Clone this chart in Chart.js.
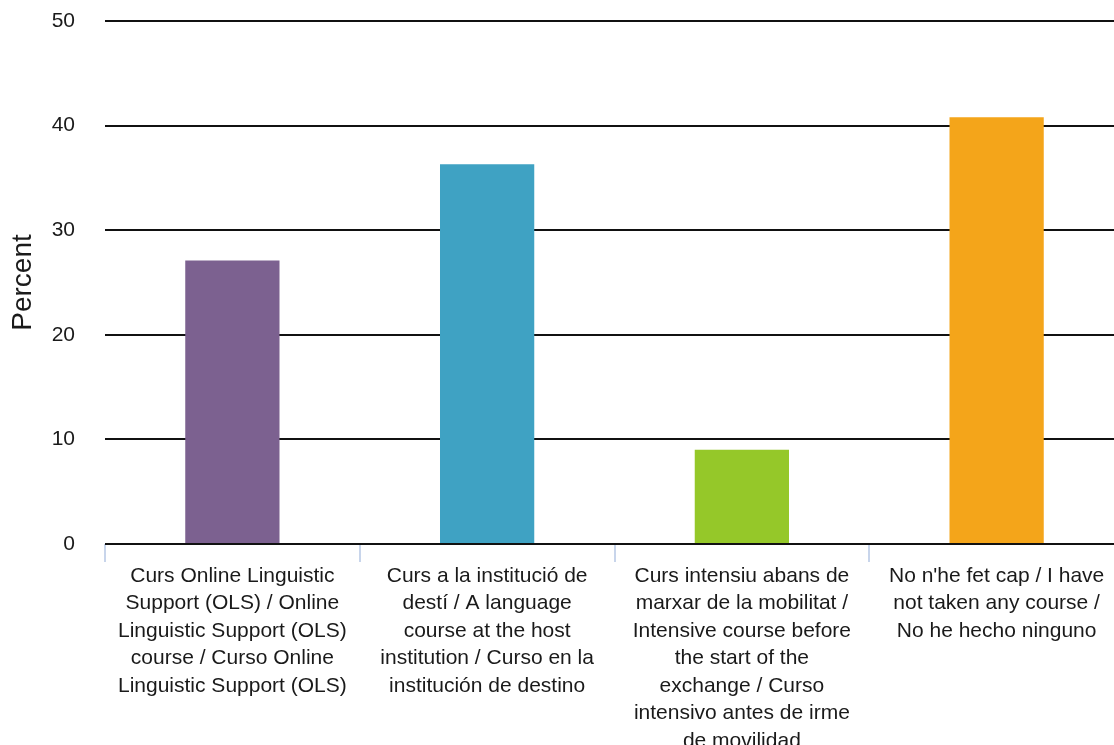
<!DOCTYPE html>
<html>
<head>
<meta charset="utf-8">
<script src="https://cdn.jsdelivr.net/npm/chart.js@4/dist/chart.umd.min.js"></script>
<style>
  html, body { margin: 0; padding: 0; background: #fff; overflow: hidden; }
  #wrap { position: relative; width: 1124px; height: 745px; }
</style>
</head>
<body>
<div id="wrap"><canvas id="myChart"></canvas></div>
<script>
// categories, one entry per bar, already broken into lines like the original
var categories = [
  ["Curs Online Linguistic", "Support (OLS) / Online", "Linguistic Support (OLS)", "course / Curso Online", "Linguistic Support (OLS)"],
  ["Curs a la institució de", "destí / A language", "course at the host", "institution / Curso en la", "institución de destino"],
  ["Curs intensiu abans de", "marxar de la mobilitat /", "Intensive course before", "the start of the", "exchange / Curso", "intensivo antes de irme", "de movilidad"],
  ["No n'he fet cap / I have", "not taken any course /", "No he hecho ninguno"]
];
var percents = [27.1, 36.3, 9.0, 40.8];
var barColors = ["#7c6190", "#3fa2c3", "#95c829", "#f4a51a"];
var yTicks = [0, 10, 20, 30, 40, 50];

var fontFamily = '"Liberation Sans", Arial, Helvetica, sans-serif';
var ctx = document.getElementById("myChart").getContext('2d');

var myChart = new Chart(ctx, {
  type: 'bar',
  data: {
    labels: categories,
    datasets: [{
      data: percents,
      backgroundColor: barColors,
      borderWidth: 0,
      barPercentage: 0.37,
      categoryPercentage: 1
    }]
  },
  options: {
    responsive: true,
    maintainAspectRatio: false,
    animation: false,
    layout: { padding: { top: 21, left: 0, right: 0, bottom: 0 } },
    plugins: {
      legend: { display: false },
      tooltip: { enabled: false }
    },
    scales: {
      x: {
        grid: {
          offset: true,
          drawOnChartArea: false,
          color: '#c8d5eb',
          lineWidth: 2,
          tickLength: 18
        },
        border: { display: false },
        ticks: {
          color: '#1a1a1a',
          padding: 0,
          maxRotation: 0,
          autoSkip: false,
          font: { family: fontFamily, size: 21, lineHeight: 1.31 }
        },
        afterFit: function(scale) { scale.height = 201; }
      },
      y: {
        min: 0,
        max: yTicks[yTicks.length - 1],
        afterBuildTicks: function(scale) {
          scale.ticks = yTicks.map(function(v) { return { value: v }; });
        },
        afterFit: function(scale) {
          // the tick padding is horizontal only here
          scale.width = 105;
          scale.paddingTop = 0;
          scale.paddingBottom = 0;
        },
        grid: {
          color: '#111',
          lineWidth: 2,
          drawTicks: false
        },
        border: { display: false },
        ticks: {
          color: '#1a1a1a',
          padding: 30,
          font: { family: fontFamily, size: 21 }
        },
        title: {
          display: true,
          text: 'Percent',
          color: '#1a1a1a',
          padding: { top: 6, bottom: 14 },
          font: { family: fontFamily, size: 28, lineHeight: 1.2 }
        }
      }
    }
  }
});
</script>
</body>
</html>
